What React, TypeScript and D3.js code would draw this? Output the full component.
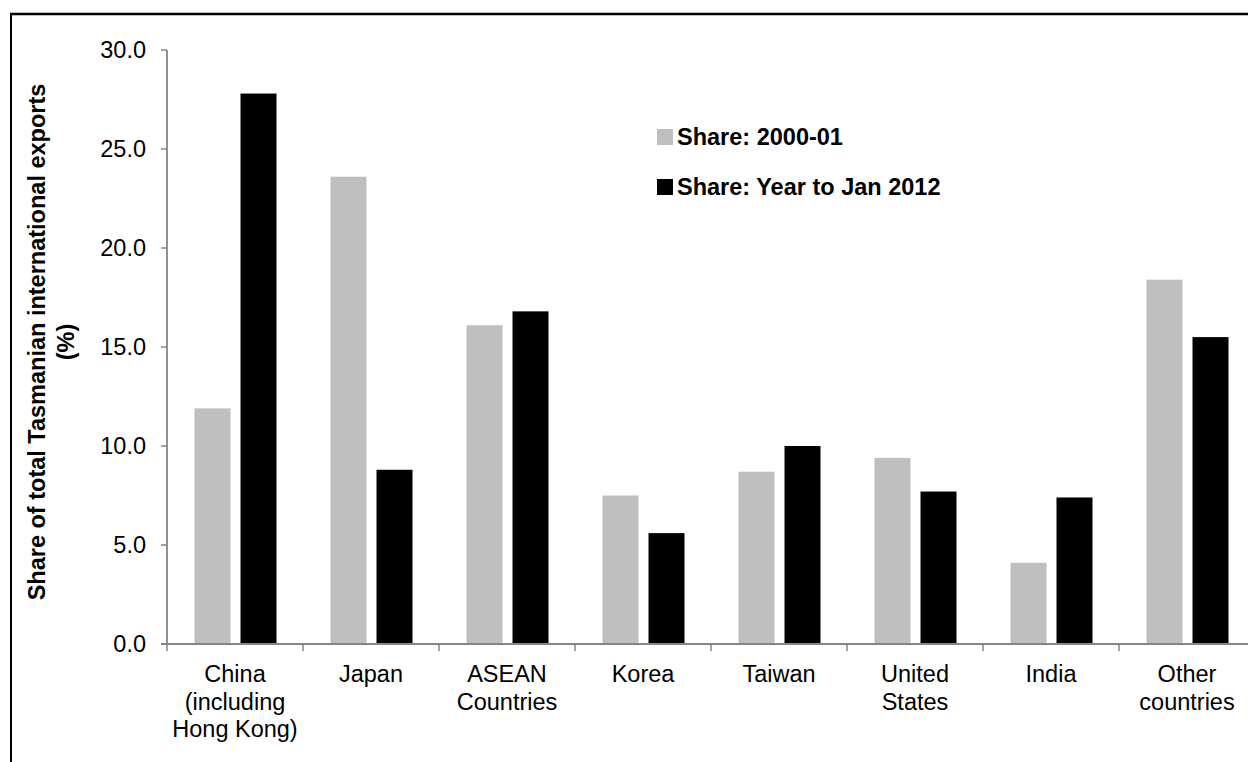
import React from "react";
import * as d3 from "d3";

const categories = [
  "China\n(including\nHong Kong)",
  "Japan",
  "ASEAN\nCountries",
  "Korea",
  "Taiwan",
  "United\nStates",
  "India",
  "Other\ncountries",
];
const seriesNames = ["Share: 2000-01", "Share: Year to Jan 2012"];
const share2000 = [11.9, 23.6, 16.1, 7.5, 8.7, 9.4, 4.1, 18.4];
const share2012 = [27.8, 8.8, 16.8, 5.6, 10.0, 7.7, 7.4, 15.5];
const yTicks = [0, 5, 10, 15, 20, 25, 30];
const yLabelLines = ["Share of total Tasmanian international exports", "(%)"];

const W = 1248;
const H = 762;
const FONT = "'Liberation Sans', Arial, Helvetica, sans-serif";
const FS = 23.5;
const colors = ["#BFBFBF", "#000000"];
const axisColor = "#868686";

export default function App() {
  const x0 = 167;
  const step = 136;
  const xScale = d3
    .scaleBand<string>()
    .domain(categories)
    .range([x0, x0 + step * categories.length])
    .paddingInner(0)
    .paddingOuter(0);
  const xSub = d3
    .scaleBand<string>()
    .domain(seriesNames)
    .range([27.5, 109.5])
    .paddingInner(10 / 46)
    .paddingOuter(0);
  const yScale = d3.scaleLinear().domain([0, 30]).range([644, 50]);
  const values = [share2000, share2012];

  const yBase = yScale(0);

  return (
    <div style={{ position: "absolute", left: 0, top: 0, width: W, height: H, overflow: "hidden", background: "#fff" }}>
      <svg width={W} height={H} style={{ display: "block" }} fontFamily={FONT}>
        <rect x={0} y={0} width={W} height={H} fill="#fff" />
        {/* outer border */}
        <line x1={10} y1={14} x2={W} y2={14} stroke="#000" strokeWidth={2.3} />
        <line x1={11} y1={13} x2={11} y2={H} stroke="#000" strokeWidth={2} />

        {/* bars */}
        {categories.map((c, i) =>
          seriesNames.map((s, j) => {
            const v = values[j][i];
            const bx = (xScale(c) as number) + (xSub(s) as number);
            const by = yScale(v);
            return (
              <rect
                key={c + s}
                x={bx}
                y={by}
                width={xSub.bandwidth()}
                height={yBase - by}
                fill={colors[j]}
              />
            );
          })
        )}

        {/* y axis */}
        <line x1={x0} y1={yScale(30)} x2={x0} y2={yBase} stroke={axisColor} strokeWidth={1.8} />
        {yTicks.map((t) => (
          <g key={t}>
            <line x1={x0 - 6} y1={yScale(t)} x2={x0} y2={yScale(t)} stroke={axisColor} strokeWidth={1.5} />
            <text x={146} y={yScale(t)} dy="0.35em" textAnchor="end" fontSize={FS} fill="#000">
              {t.toFixed(1)}
            </text>
          </g>
        ))}

        {/* x axis */}
        <line x1={x0 - 6} y1={yBase} x2={W} y2={yBase} stroke={axisColor} strokeWidth={2} />
        {categories.map((c) => (
          <line
            key={"t" + c}
            x1={xScale(c) as number}
            y1={yBase}
            x2={xScale(c) as number}
            y2={yBase + 7}
            stroke={axisColor}
            strokeWidth={1.5}
          />
        ))}
        {categories.map((c) => {
          const cx = (xScale(c) as number) + xScale.bandwidth() / 2;
          return (
            <text key={"l" + c} textAnchor="middle" fontSize={FS} fill="#000">
              {c.split("\n").map((line, k) => (
                <tspan key={k} x={cx} y={682 + k * 27.5}>
                  {line}
                </tspan>
              ))}
            </text>
          );
        })}

        {/* y axis title */}
        <g transform={`translate(0, 342) rotate(-90)`}>
          {yLabelLines.map((line, k) => (
            <text key={k} x={0} y={45 + k * 29} textAnchor="middle" fontSize={FS} fontWeight="bold" fill="#000">
              {line}
            </text>
          ))}
        </g>

        {/* legend */}
        {seriesNames.map((s, j) => (
          <g key={"lg" + s}>
            <rect x={657} y={129 + j * 50} width={16} height={16} fill={colors[j]} />
            <text x={677} y={145 + j * 50} fontSize={FS} fontWeight="bold" fill="#000">
              {s}
            </text>
          </g>
        ))}
      </svg>
    </div>
  );
}
